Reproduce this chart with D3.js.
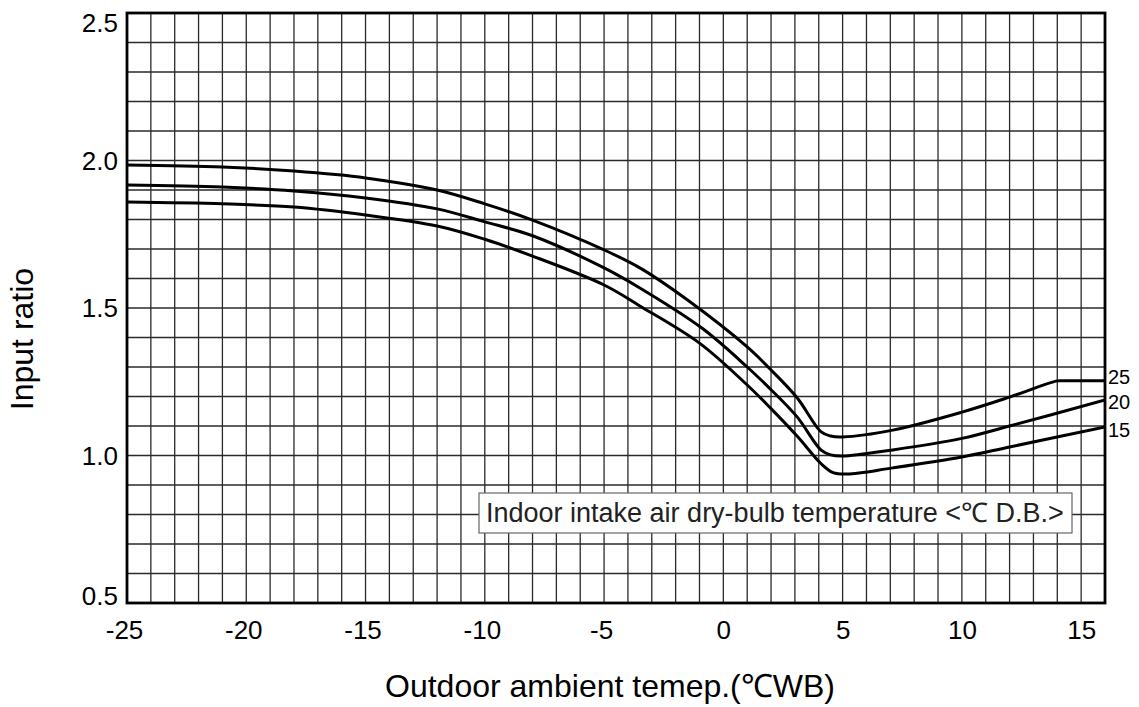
<!DOCTYPE html>
<html>
<head>
<meta charset="utf-8">
<script src="https://cdn.jsdelivr.net/npm/d3@7/dist/d3.min.js"></script>
<style>
  html, body { margin: 0; padding: 0; background: #fff; }
  svg { display: block; }
  text { font-family: "Liberation Sans", Arial, Helvetica, sans-serif; }
</style>
</head>
<body>
<svg id="chart" width="1139" height="707"></svg>
<script>
// ---- data ----
const xTicks = [-25, -20, -15, -10, -5, 0, 5, 10, 15];
const yTicks = [0.5, 1.0, 1.5, 2.0, 2.5];
const seriesNames = ["25", "20", "15"];

const temp25 = [
  [-25, 1.985], [-21, 1.978], [-18, 1.964], [-15, 1.941], [-12, 1.900], [-10, 1.853],
  [-8, 1.798], [-5, 1.697], [-3.5, 1.636], [-1.5, 1.527], [1, 1.368],
  [2, 1.290], [3.1, 1.195], [4.1, 1.080], [4.5, 1.066], [5, 1.063], [7.1, 1.086],
  [10, 1.147], [12, 1.198], [14, 1.253], [14.3, 1.253], [16, 1.253]
];
const temp20 = [
  [-25, 1.917], [-21, 1.910], [-18, 1.897], [-15, 1.873], [-12, 1.836], [-10, 1.792],
  [-8, 1.745], [-5, 1.636], [-3.5, 1.568], [-0.9, 1.432], [1, 1.300],
  [2, 1.223], [3.1, 1.130], [4.1, 1.018], [4.5, 1.002], [5, 0.998], [7.1, 1.019],
  [10, 1.058], [12, 1.100], [16, 1.188]
];
const temp15 = [
  [-25, 1.859], [-21, 1.853], [-18, 1.842], [-15, 1.815], [-12, 1.778], [-10, 1.733],
  [-8, 1.676], [-5, 1.578], [-3.5, 1.507], [-1, 1.381], [1, 1.239],
  [2, 1.159], [3.1, 1.065], [4.1, 0.972], [4.6, 0.942], [5.2, 0.937], [7.1, 0.958],
  [10, 0.995], [12, 1.029], [16, 1.097]
];
const series = [temp25, temp20, temp15];

const xTitle = "Outdoor ambient temep.(\u2103WB)";
const yTitle = "Input ratio";
const legendText = "Indoor intake air dry-bulb temperature <\u2103 D.B.>";

// ---- layout ----
const pL = 127, pR = 1105, pT = 13, pB = 603;
const svg = d3.select("#chart");

const x = d3.scaleLinear().domain([-25, 16]).range([pL, pR]);
const y = d3.scaleLinear().domain([0.5, 2.5]).range([pB, pT]);

// grid
const grid = svg.append("g");
grid.selectAll("line.v").data(d3.range(-24, 16, 1)).join("line")
  .attr("class", "v")
  .attr("x1", d => x(d)).attr("x2", d => x(d))
  .attr("y1", pT).attr("y2", pB)
  .attr("stroke", "#2a2a2a").attr("stroke-width", 1.3);
grid.selectAll("line.h").data(d3.range(6, 25, 1).map(d => d / 10)).join("line")
  .attr("class", "h")
  .attr("y1", d => y(d)).attr("y2", d => y(d))
  .attr("x1", pL).attr("x2", pR)
  .attr("stroke", "#2a2a2a").attr("stroke-width", 1.3);

// axes (labels only)
const xAxis = svg.append("g").attr("transform", `translate(0,${pB})`)
  .call(d3.axisBottom(x).tickValues(xTicks).tickSize(0).tickPadding(18).tickFormat(d => String(d)));
xAxis.select(".domain").remove();
xAxis.selectAll("text").attr("font-size", 26).attr("fill", "#000")
  .attr("font-family", "'Liberation Sans', Arial, sans-serif")
  .attr("dx", d => d < 0 ? -3 : 0);

const yAxis = svg.append("g").attr("transform", `translate(${pL},0)`)
  .call(d3.axisLeft(y).tickValues(yTicks).tickSize(0).tickPadding(9).tickFormat(d3.format(".1f")));
yAxis.select(".domain").remove();
yAxis.selectAll("text").attr("font-size", 26).attr("fill", "#000")
  .attr("font-family", "'Liberation Sans', Arial, sans-serif")
  .attr("dy", d => d === 2.5 ? "0.72em" : d === 0.5 ? "0.07em" : "0.34em");

// legend box
svg.append("rect").attr("x", 479).attr("y", 493).attr("width", 593).attr("height", 40)
  .attr("fill", "#fff").attr("stroke", "#666").attr("stroke-width", 1.2);
svg.append("text").attr("x", 486).attr("y", 522).attr("font-size", 27).attr("fill", "#222")
  .text(legendText);

// curves
svg.append("clipPath").attr("id", "plotclip").append("rect")
  .attr("x", pL).attr("y", pT).attr("width", pR - pL).attr("height", pB - pT);
const line = d3.line().x(d => x(d[0])).y(d => y(d[1])).curve(d3.curveCatmullRom.alpha(0.5));
svg.append("g").attr("clip-path", "url(#plotclip)")
  .selectAll("path").data(series).join("path")
  .attr("d", line).attr("fill", "none").attr("stroke", "#000").attr("stroke-width", 3)
  .attr("stroke-linejoin", "round");

// frame
svg.append("rect").attr("x", pL).attr("y", pT).attr("width", pR - pL).attr("height", pB - pT)
  .attr("fill", "none").attr("stroke", "#000").attr("stroke-width", 2.8);

// series end labels
const labelY = [377, 402, 430];
svg.selectAll("text.sl").data(seriesNames).join("text")
  .attr("class", "sl")
  .attr("x", pR + 3).attr("y", (d, i) => labelY[i]).attr("dy", "0.36em")
  .attr("font-size", 20).attr("fill", "#000").text(d => d);

// titles
svg.append("text").attr("x", 610).attr("y", 697).attr("text-anchor", "middle")
  .attr("font-size", 32).attr("fill", "#000").text(xTitle);
svg.append("text").attr("transform", "translate(33,339) rotate(-90)").attr("text-anchor", "middle")
  .attr("font-size", 32).attr("fill", "#000").text(yTitle);
</script>
</body>
</html>
